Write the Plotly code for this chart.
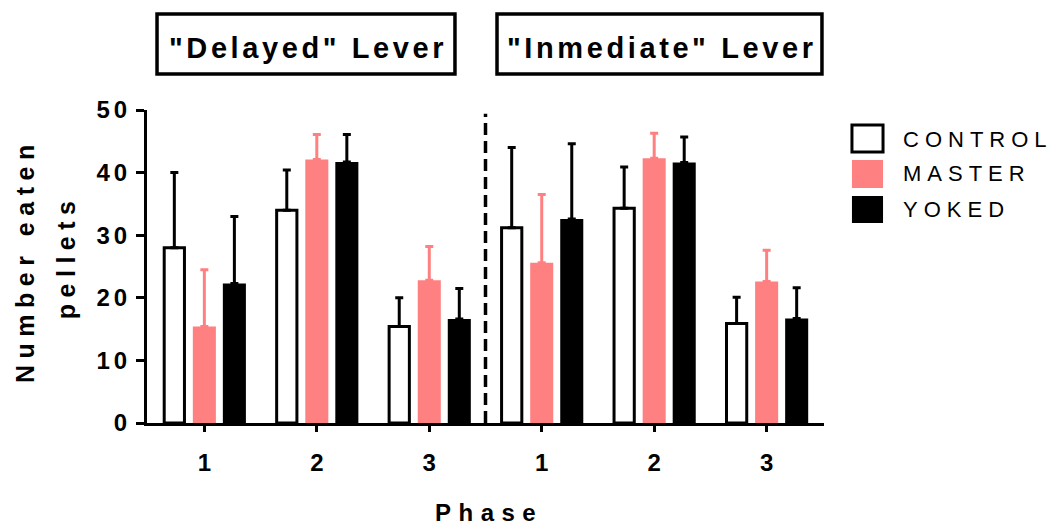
import plotly.graph_objects as go

# Six phase slots: three phases for each lever condition
slots = [0, 1, 2, 3, 4, 5]
phase_labels = ["1", "2", "3", "1", "2", "3"]
y_ticks = [0, 10, 20, 30, 40, 50]

groups = ["CONTROL", "MASTER", "YOKED"]

control_mean = [28.0, 34.0, 15.4, 31.2, 34.3, 15.9]
control_sem = [12.0, 6.4, 4.6, 12.8, 6.6, 4.2]

master_mean = [15.4, 42.1, 22.8, 25.6, 42.3, 22.6]
master_sem = [9.1, 4.0, 5.4, 10.9, 4.0, 5.0]

yoked_mean = [22.3, 41.7, 16.6, 32.6, 41.6, 16.7]
yoked_sem = [10.7, 4.4, 4.9, 12.0, 4.1, 4.9]

panel_titles = ['"Delayed" Lever', '"Inmediate" Lever']

PINK = "#FF8080"
BLACK = "#000000"
BOLD = "Liberation Sans"


def spaced(text, px):
    return f'<span style="letter-spacing:{px}px">{text}</span>'


fig = go.Figure()

series = [
    (groups[0], control_mean, control_sem, "#FFFFFF", BLACK, 3, -0.267, 0.18),
    (groups[1], master_mean, master_sem, PINK, PINK, 0, 0.0, 0.205),
    (groups[2], yoked_mean, yoked_sem, BLACK, BLACK, 0, 0.267, 0.205),
]
for name, mean, sem, fill, err_col, lw, shift, w in series:
    fig.add_trace(go.Bar(
        name=name,
        x=slots,
        y=mean,
        width=w,
        offset=shift - w / 2,
        marker=dict(color=fill, line=dict(color=BLACK, width=lw)),
        error_y=dict(type="data", symmetric=False, array=sem,
                     arrayminus=[0] * len(sem), color=err_col,
                     thickness=3, width=4),
        showlegend=False,
    ))

# dashed divider between the two lever conditions
fig.add_shape(type="line", xref="x", yref="y", x0=2.5, x1=2.5, y0=0, y1=49.4,
              line=dict(color=BLACK, width=3.5, dash="12px,6px"))

# panel header boxes
for (x0, x1), title in zip([(0.0148, 0.4549), (0.5170, 0.9970)], panel_titles):
    fig.add_shape(type="rect", xref="paper", yref="paper",
                  x0=x0, x1=x1, y0=1.115, y1=1.3067,
                  line=dict(color=BLACK, width=3.5), fillcolor="white")
    fig.add_annotation(xref="paper", yref="paper", x=(x0 + x1) / 2 + 0.003, y=1.199,
                       text=spaced(title, 3.6), showarrow=False,
                       xanchor="center", yanchor="middle",
                       font=dict(family=BOLD, size=29, color=BLACK, weight="bold"))

# legend drawn as boxes with labels
legend_rows = [
    (groups[0], "#FFFFFF", 0.952, 0.866, 0.907),
    (groups[1], PINK, 0.840, 0.751, 0.796),
    (groups[2], BLACK, 0.725, 0.639, 0.681),
]
for name, fill, top, bottom, mid in legend_rows:
    fig.add_shape(type="rect", xref="paper", yref="paper",
                  x0=1.0413, x1=1.0872, y0=bottom, y1=top,
                  fillcolor=fill,
                  line=dict(color=BLACK if fill == "#FFFFFF" else fill,
                            width=3 if fill == "#FFFFFF" else 0))
    fig.add_annotation(xref="paper", yref="paper", x=1.1135, y=mid,
                       text=spaced(name, 6), showarrow=False,
                       xanchor="left", yanchor="middle",
                       font=dict(family="Liberation Sans", size=22, color=BLACK))

# axis titles
fig.add_annotation(xref="paper", yref="paper", x=-0.1805, y=0.520,
                   text=spaced("Number eaten", 6.5), textangle=-90, showarrow=False,
                   xanchor="center", yanchor="middle",
                   font=dict(family=BOLD, size=25, color=BLACK, weight="bold"))
fig.add_annotation(xref="paper", yref="paper", x=-0.1195, y=0.530,
                   text=spaced("pellets", 6.5), textangle=-90, showarrow=False,
                   xanchor="center", yanchor="middle",
                   font=dict(family=BOLD, size=25, color=BLACK, weight="bold"))
fig.add_annotation(xref="paper", yref="paper", x=0.505, y=-0.285,
                   text=spaced("Phase", 7.5), showarrow=False,
                   xanchor="center", yanchor="middle",
                   font=dict(family=BOLD, size=24, color=BLACK, weight="bold"))

fig.update_layout(
    width=1057, height=525,
    margin=dict(l=147, r=233, t=110, b=102),
    paper_bgcolor="white", plot_bgcolor="white",
    barmode="overlay",
    xaxis=dict(range=[-0.51, 5.51], tickmode="array", tickvals=slots,
               ticktext=phase_labels, showline=True, linewidth=3,
               linecolor=BLACK, ticks="outside", ticklen=6, tickwidth=3,
               tickcolor=BLACK, showgrid=False, zeroline=False,
               ticklabelstandoff=10,
               tickfont=dict(family=BOLD, size=24, color=BLACK, weight="bold")),
    yaxis=dict(range=[0, 50], tickmode="array", tickvals=y_ticks,
               ticktext=[spaced(str(v), 4) for v in y_ticks],
               showline=True, linewidth=3, linecolor=BLACK, ticks="outside",
               ticklen=8, tickwidth=3, tickcolor=BLACK, showgrid=False,
               zeroline=False,
               tickfont=dict(family=BOLD, size=24, color=BLACK, weight="bold")),
)

fig.write_html("out.html")
